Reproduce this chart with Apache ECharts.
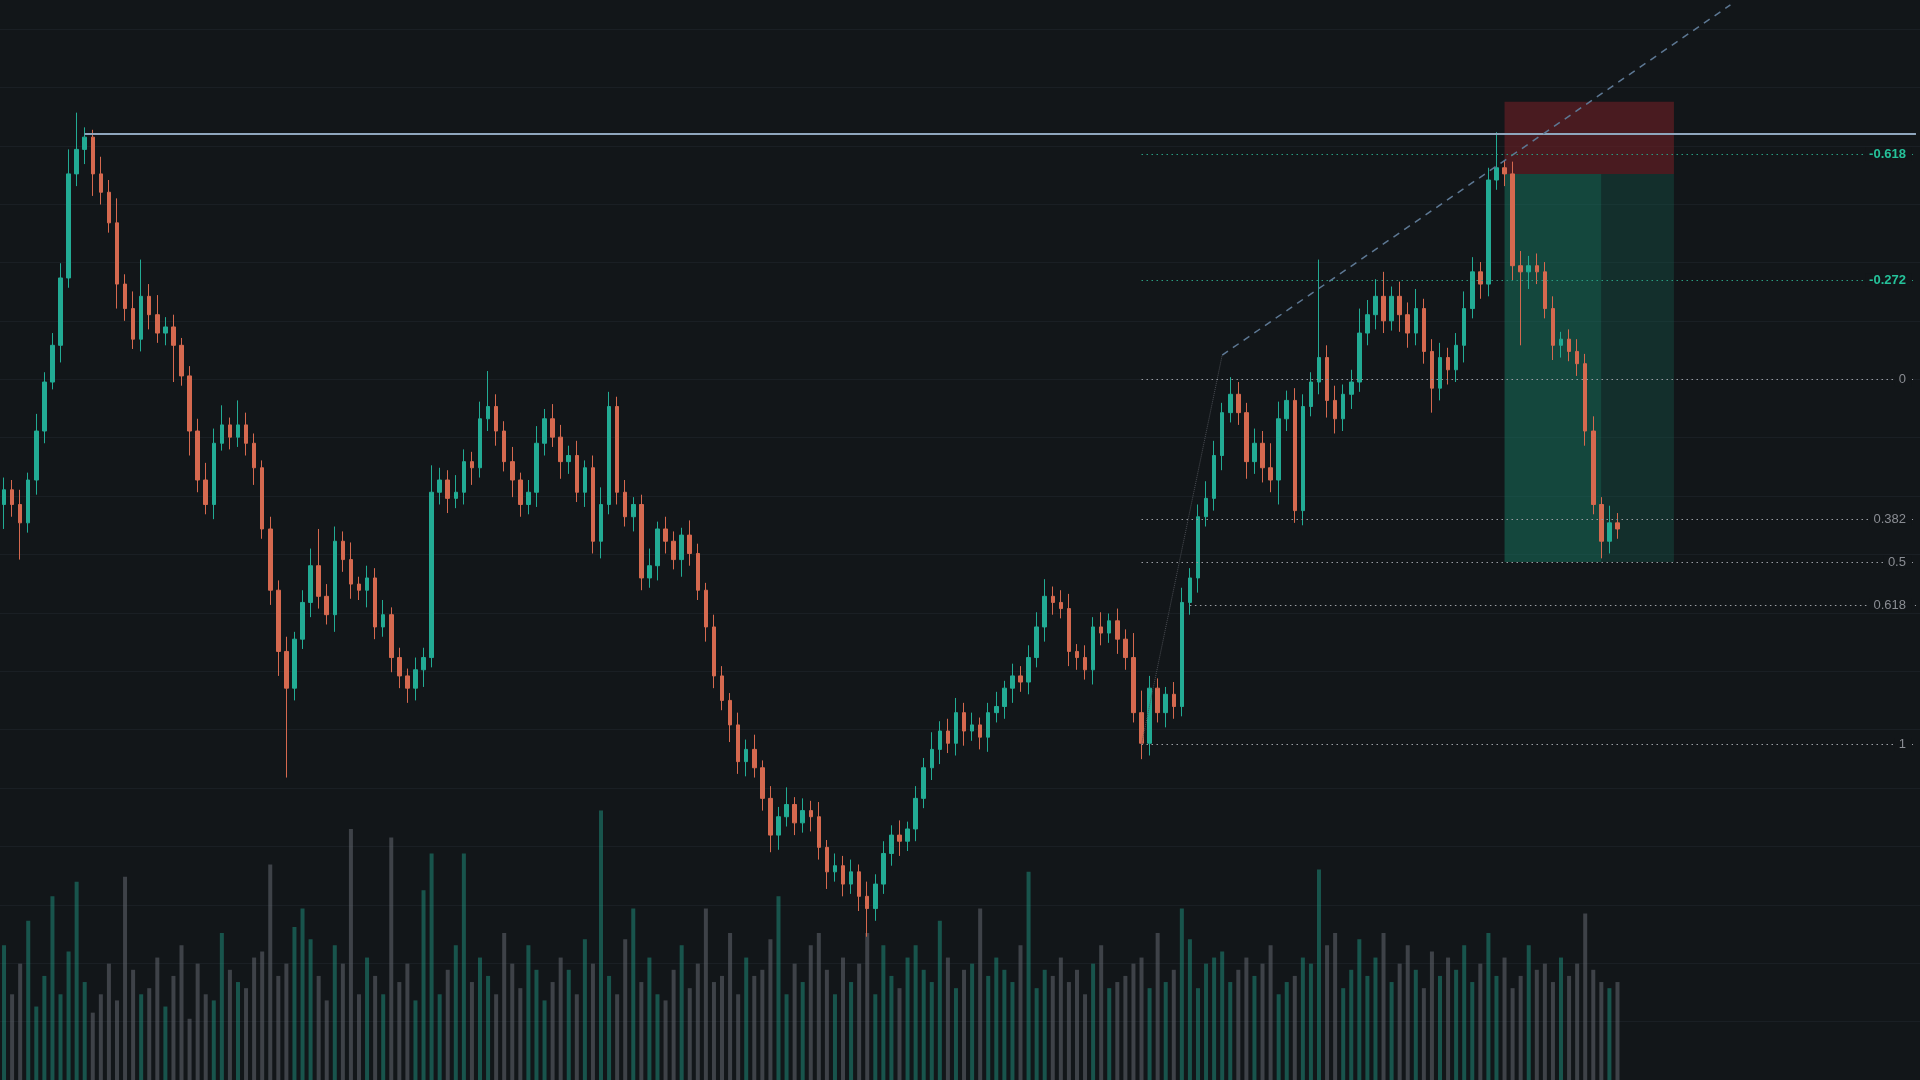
<!DOCTYPE html>
<html><head><meta charset="utf-8">
<script src="https://cdn.jsdelivr.net/npm/echarts@6/dist/echarts.min.js"></script>
<style>html,body{margin:0;padding:0;background:#121619;}#c{width:1920px;height:1080px;}</style>
</head><body><div id="c"></div>
<script>
// prices in chart units
const closes = [482,470,455,490,530,570,600,655,740,760,
770,740,725,700,650,630,605,640,625,610,
615,600,575,530,490,470,520,535,525,535,
520,500,450,400,350,320,360,390,420,395,
380,440,425,405,400,410,370,380,345,330,
320,335,345,480,490,475,480,505,500,540,
550,530,505,490,470,480,520,540,525,505,
510,480,500,440,470,550,480,460,470,410,
420,450,440,425,445,430,400,370,330,310,
290,260,270,255,230,200,215,225,210,220,
215,190,170,175,160,170,150,140,160,185,
200,195,205,230,255,270,285,275,300,285,
290,280,300,305,320,330,325,345,370,395,
390,385,350,345,335,370,365,375,360,345,
300,275,320,300,315,305,390,410,460,475,
510,545,560,545,505,520,500,490,540,555,
465,550,570,590,555,540,560,570,610,625,
640,620,640,625,610,630,595,565,590,580,
600,630,660,650,735,745,740,665,660,665,
660,630,600,605,595,585,530,470,440,455,450];
const wickUp = [10,8,12,6,14,8,10,12,20,30,
8,6,14,10,20,8,14,30,10,16,
8,10,6,8,10,14,12,16,6,20,
10,8,6,10,8,12,6,10,14,30,
10,12,8,14,6,10,8,12,6,8,
6,10,8,22,10,8,14,10,8,14,
29,10,8,12,6,10,14,8,12,10,
8,12,6,10,14,12,8,10,6,8,
14,6,10,8,6,12,8,6,10,8,
6,10,8,12,6,10,8,14,6,10,
8,12,6,10,8,10,6,12,8,10,
8,12,6,10,8,14,8,10,12,8,
10,6,8,12,6,10,8,10,12,14,
8,10,12,6,10,8,12,6,10,8,
20,18,10,8,6,10,12,8,10,14,
12,8,14,10,8,12,10,20,14,8,
10,10,8,80,10,12,8,10,20,12,
14,20,8,12,10,16,8,10,12,8,
10,14,12,8,10,29,6,10,12,8,
10,8,10,6,8,10,8,12,6,14,8];
const wickDn = [20,10,30,8,12,10,6,14,8,10,
12,18,10,8,20,10,8,10,12,8,
10,30,8,20,10,8,12,6,10,8,
10,14,8,12,20,73,10,8,12,10,
8,14,10,12,8,14,10,8,12,10,
12,10,14,8,10,12,8,10,14,8,
10,12,8,14,10,8,12,10,8,14,
10,8,12,10,14,8,10,8,12,10,
8,12,10,8,14,10,8,12,10,8,
14,10,12,8,10,14,12,8,10,8,
12,10,14,8,10,8,12,23,10,8,
10,12,8,10,8,10,12,8,10,12,
8,10,12,8,10,12,8,10,8,12,
10,8,12,10,8,12,10,8,12,10,
8,13,10,8,12,10,8,10,12,8,
10,12,8,10,14,10,12,10,20,10,
10,12,8,10,14,12,10,12,8,10,
12,10,8,14,12,10,10,20,10,12,
10,14,8,12,10,8,10,12,60,14,
10,8,12,10,8,10,12,8,14,10,8];
const volumes = [110,70,95,130,60,85,150,70,105,162,
80,55,70,95,65,166,90,70,75,100,
60,85,110,50,95,70,65,120,90,80,
75,100,105,176,85,95,125,140,115,85,
65,110,95,205,70,100,85,70,198,80,
95,65,155,185,70,90,110,185,80,100,
85,70,120,95,75,110,90,65,80,100,
90,70,115,95,220,85,70,115,140,80,
100,70,65,90,110,75,95,140,80,85,
120,70,100,85,90,115,150,70,95,80,
110,120,90,70,100,80,95,120,70,110,
85,75,100,110,90,80,130,100,75,90,
95,140,85,100,90,80,110,170,75,90,
85,100,80,90,70,95,110,75,80,85,
95,100,75,120,80,90,140,115,75,95,
100,105,80,90,100,85,95,110,70,80,
85,100,95,172,110,120,75,90,115,85,
100,120,80,95,110,90,75,105,85,100,
90,110,80,95,120,85,100,75,85,110,
90,95,80,100,85,95,136,90,80,75,80];
const fibLevels = [-0.618,-0.272,0,0.382,0.5,0.618,1];
const fibZeroPrice = 572, fibOnePrice = 274;
const resistance = 773;
const trendStart = ['c151',592], trendEnd = ['c214',878];
const stopZone = [['c186',799],['c207',740]];
const targetZone1 = [['c186',740],['c198',423]];
const targetZone2 = [['c198',740],['c207',423]];

const N = 238;
const cats = Array.from({length:N},(_,i)=>'c'+i);
const ohlc = closes.map((c,i)=>{
  const o = i===0 ? 470 : closes[i-1];
  return [o,c,Math.min(o,c)-wickDn[i],Math.max(o,c)+wickUp[i]];
});
const UP='#22ab94', DN='#d5694f';
const vol = volumes.map((v,i)=>({value:v,itemStyle:{color: ohlc[i][1]>=ohlc[i][0] ? 'rgba(34,171,148,0.42)' : 'rgba(110,114,124,0.48)'}}));

const fibLines = fibLevels.map(l=>{
  const p = fibZeroPrice + (fibOnePrice-fibZeroPrice)*l;
  const neg = l<0;
  const startIdx = l===0.618 ? 147 : 141;
  const col = neg ? '#25c29a' : '#8a8d93';
  return [{coord:['c'+startIdx,p],lineStyle:{color: neg?'#2a9c80':'#9a9da3',type:[1.5,3.5],width:1.2},
    label:{show:true,formatter:String(l),position:'insideEnd',color:col,fontWeight:neg?'bold':'normal',fontSize:13,backgroundColor:'#121619',padding:[0,6,0,4],distance:4}},
    {coord:['c237',p]}];
});

const chart = echarts.init(document.getElementById('c'));
chart.setOption({
  backgroundColor:'#121619',
  animation:false,
  grid:[{left:0,right:0,top:0,bottom:0},{left:0,right:0,top:29,bottom:-14}],
  xAxis:[{type:'category',data:cats,gridIndex:0,show:false,boundaryGap:true},
         {type:'category',data:cats,gridIndex:1,show:false}],
  yAxis:[{type:'value',gridIndex:0,min:0,max:882,show:false},
         {type:'value',gridIndex:0,min:0,max:882,show:false},
         {type:'value',gridIndex:1,min:0,max:18,interval:1,axisLabel:{show:false},axisLine:{show:false},axisTick:{show:false},
          splitLine:{show:true,lineStyle:{color:'#1a1f24',width:1}}}],
  series:[
    {type:'bar',xAxisIndex:0,yAxisIndex:1,data:vol,barWidth:4,z:1},
    {type:'candlestick',xAxisIndex:0,yAxisIndex:0,data:ohlc,barWidth:4,z:3,
     itemStyle:{color:UP,color0:DN,borderColor:UP,borderColor0:DN,borderWidth:1},
     markArea:{silent:true,z:2,data:[
       [{coord:stopZone[0],itemStyle:{color:'rgba(110,32,36,0.6)'}},{coord:stopZone[1]}],
       [{coord:targetZone1[0],itemStyle:{color:'rgba(22,120,98,0.5)'}},{coord:targetZone1[1]}],
       [{coord:targetZone2[0],itemStyle:{color:'rgba(22,95,80,0.35)'}},{coord:targetZone2[1]}]
     ]},
     markLine:{silent:true,symbol:['none','none'],z:4,
      data:[
        [{coord:['c10',resistance],lineStyle:{color:'#8fa6bd',type:'solid',width:2},label:{show:false}},{coord:['c237',resistance]}],
        [{coord:trendStart,lineStyle:{color:'#5d7894',type:[7,6],width:1.5},label:{show:false}},{coord:trendEnd}],
        [{coord:['c141',274],lineStyle:{color:'#4a4d53',type:'dotted',width:1},label:{show:false}},{coord:['c151',592]}],
        ...fibLines
      ],
      lineStyle:{type:[2,3],width:1}}
    },
    {type:'line',xAxisIndex:1,yAxisIndex:2,data:[]}
  ]
});
</script></body></html>
